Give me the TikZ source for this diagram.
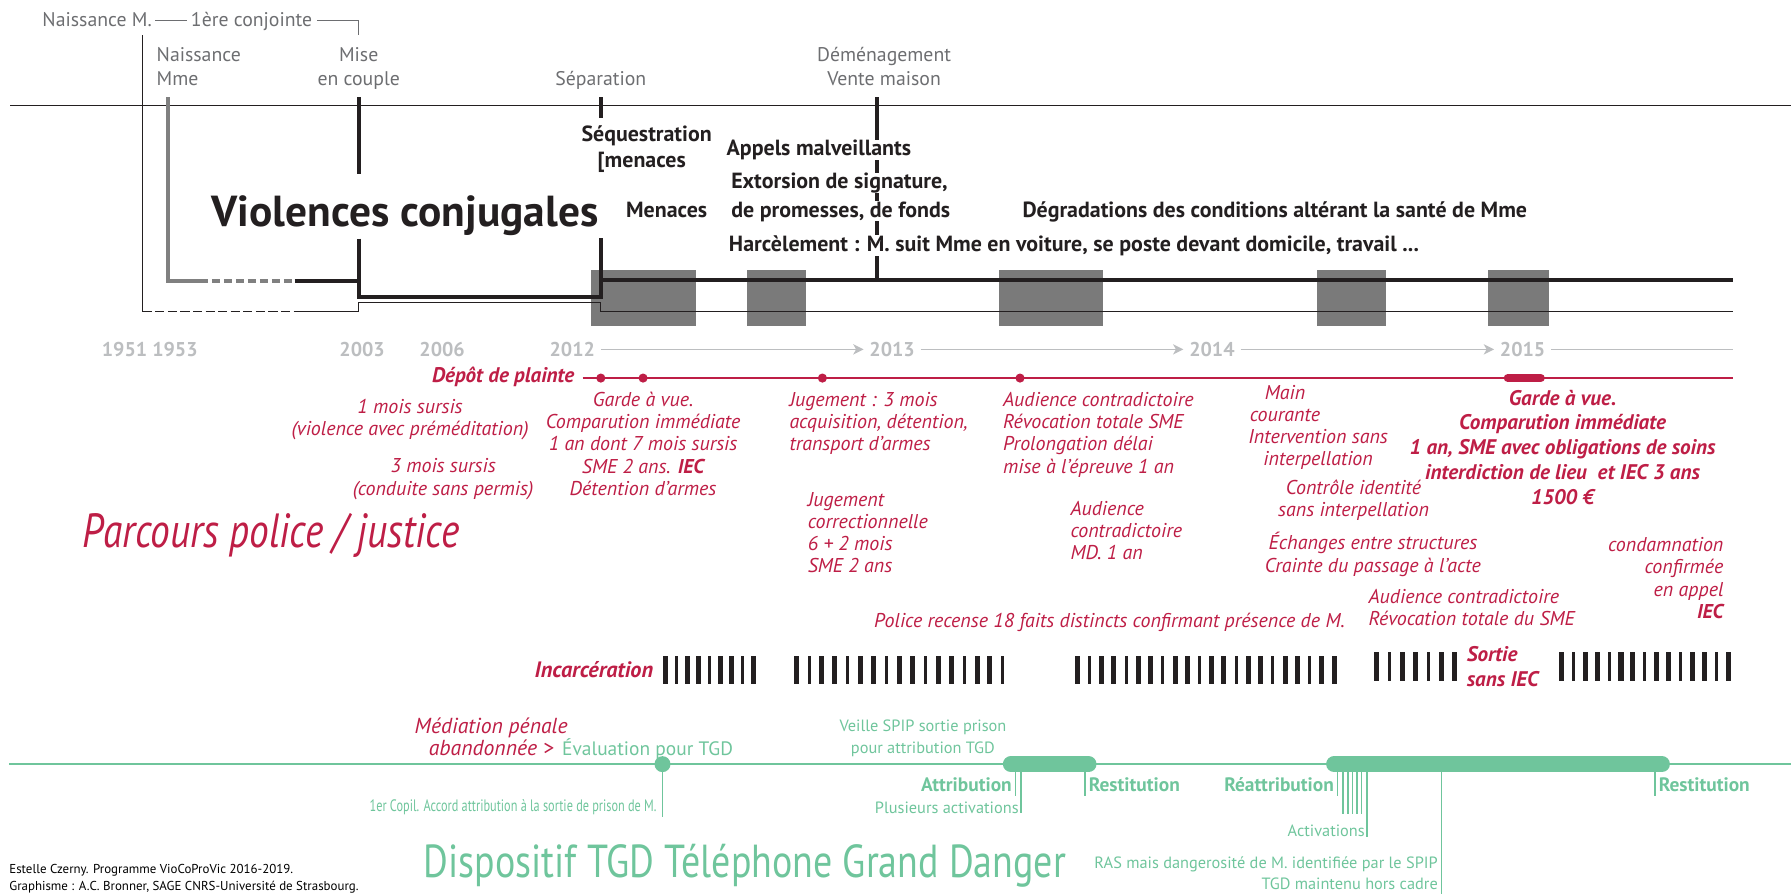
\documentclass[tikz,border=0pt]{standalone}
\usepackage{fontspec}
\setmainfont{PT Sans}
\newfontfamily\condfont{PT Sans}[FakeStretch=0.82]
\newfontfamily\copilfont{PT Sans}[FakeStretch=0.74]
\usetikzlibrary{arrows.meta}
\definecolor{labgray}{RGB}{109,110,113}
\definecolor{yeargray}{RGB}{188,190,192}
\definecolor{rc}{RGB}{190,30,70}
\definecolor{gc}{RGB}{111,197,156}
\definecolor{dk}{RGB}{35,31,32}
\definecolor{boxgray}{RGB}{122,122,122}
\definecolor{mmegray}{RGB}{128,128,128}
\begin{document}
\begin{tikzpicture}[x=1pt,y=-1pt,
  lab/.style={text=labgray, inner sep=0pt, font=\fontsize{17.3}{20.5}\selectfont, anchor=base},
  bk/.style={text=dk, inner sep=0pt, font=\bfseries\fontsize{19.2}{22}\selectfont, anchor=base west},
  yr/.style={text=yeargray, inner sep=0pt, font=\bfseries\fontsize{17.5}{20}\selectfont, anchor=base west},
  rt/.style={text=rc, inner sep=0pt, font=\itshape\fontsize{17.5}{19.4}\selectfont, anchor=base},
  rtb/.style={text=rc, inner sep=0pt, font=\bfseries\itshape\fontsize{18.5}{21.8}\selectfont, anchor=base},
  gt/.style={text=gc, inner sep=0pt, font=\fontsize{14.3}{19}\selectfont, anchor=base},
  gtb/.style={text=gc, inner sep=0pt, font=\bfseries\fontsize{17}{19}\selectfont, anchor=base},
  blackthick/.style={draw=dk, line width=3.5pt, line join=miter},
  blackthin/.style={draw=dk, line width=1pt},
  yline/.style={draw=yeargray, line width=1.2pt},
  redline/.style={draw=rc, line width=1.5pt},
  rdot/.style={circle, fill=rc, minimum size=8pt, inner sep=0pt},
  gline/.style={draw=gc, line width=1.5pt},
  gcaps/.style={draw=gc, line width=14pt, line cap=round},
]
\useasboundingbox (0,0) rectangle (1568,783);

% ---------- gray period boxes
\foreach \xa/\xb in {517/609,654/706,875/966,1153/1213,1303/1356}
  \fill[boxgray] (\xa,236) rectangle (\xb,285);

% ---------- top labels
\node[lab, anchor=base west] (nm) at (37,23) {Naissance M.};
\node[lab, anchor=base west] (c1) at (167,23) {1ère conjointe};
\coordinate (brk) at (314,18);
\coordinate (brkd) at (314,31);
\draw[draw=labgray, line width=1pt] ([xshift=3pt]nm.east |- brk) -- ([xshift=-3pt]c1.west |- brk);
\draw[draw=labgray, line width=1pt] ([xshift=4pt]c1.east |- brk) -- (brk) -- (brkd);

\node[lab, anchor=base west, align=left] (nmme) at (137,74.5) {Naissance\\Mme};
\node[lab, align=center] (mise) at (314,74.5) {Mise\\en couple};
\node[lab] (sep) at (526,74.5) {Séparation};
\node[lab, align=center] (dem) at (774,74.5) {Déménagement\\Vente maison};

% horizontal reference line
\coordinate (hl0) at (9,92);
\coordinate (hl1) at (1568,92);
\draw[blackthin] (hl0) -- (hl1);

% ---------- life lines
\coordinate (mTop) at (125,31);
\coordinate (mCorner) at (125,273);
\coordinate (mDashEnd) at (258,273);
\coordinate (mStep1) at (314,273);
\coordinate (mStep2) at (314,265);
\coordinate (mStep3) at (526,265);
\coordinate (mStep4) at (526,273);
\coordinate (mEnd) at (1517,273);
\draw[blackthin] (mTop) -- (mCorner);
\draw[blackthin, dash pattern=on 8pt off 3pt] (mCorner) -- (mDashEnd);
\draw[blackthin] (mDashEnd) -- (mStep1) -- (mStep2) -- (mStep3) -- (mStep4) -- (mEnd);

\coordinate (mmeTop) at (147,85);
\coordinate (mmeCorner) at (147,246);
\coordinate (mmeA) at (175,246);
\coordinate (mmeB) at (258,246);
\coordinate (mmeC) at (314,246);
\draw[draw=mmegray, line width=3.5pt, line join=miter] (mmeTop) -- (mmeCorner) -- (mmeA);
\draw[draw=mmegray, line width=3.5pt, dash pattern=on 7.5pt off 3pt] (mmeA) -- (mmeB);
\draw[blackthick] (mmeB) -- (mmeC);

\coordinate (miseTop) at (314,85);
\coordinate (miseMid) at (314,152);
\coordinate (miseLow) at (314,209);
\coordinate (miseCorner) at (314,260);
\coordinate (sepCorner) at (526,260);
\coordinate (sepLow) at (526,208);
\coordinate (sepTop) at (526,85);
\coordinate (sepMid) at (526,103);
\draw[blackthick] (miseTop) -- (miseMid);
\draw[blackthick] (miseLow) -- (miseCorner) -- (sepCorner) -- (sepLow);
\draw[blackthick] (sepTop) -- (sepMid);

\coordinate (mainA) at (526,245);
\coordinate (mainB) at (1517,245);
\draw[blackthick] (mainA) -- (mainB);

\coordinate (demTop) at (768,85);
\coordinate (demBot) at (768,245);
\draw[blackthick] (demTop) -- (demBot);

% ---------- violence texts
\node[text=dk, inner sep=0pt, font=\bfseries\fontsize{38}{40}\selectfont, anchor=base west] (vc) at (185,198) {Violences conjugales};
\node[bk] (seq) at (509,124) {Séquestration};
\node[bk] (seq2) at (523,147) {[menaces};
\node[bk, fill=white] (app) at (636,136) {Appels malveillants};
\node[bk, fill=white] (ext) at (640,165) {Extorsion de signature,};
\node[bk, fill=white] (prom) at (640,190) {de promesses, de fonds};
\node[bk] (men) at (548,190) {Menaces};
\node[bk] (deg) at (895,190) {Dégradations des conditions altérant la santé de Mme};
\node[bk, fill=white] (har) at (638,220) {Harcèlement : M. suit Mme en voiture, se poste devant domicile, travail ...};

% ---------- years
\node[yr] (y1951) at (89,312) {1951 1953};
\node[yr] (y2003) at (297,312) {2003};
\node[yr] (y2006) at (367,312) {2006};
\node[yr] (y2012) at (481,312) {2012};
\node[yr] (y2013) at (761,312) {2013};
\node[yr] (y2014) at (1041,312) {2014};
\node[yr] (y2015) at (1313,312) {2015};
\coordinate (axEnd) at (1517,305);
\draw[yline, -{Stealth[length=9pt,width=9pt,inset=2.5pt]}] ([xshift=5pt]y2012.east) -- ([xshift=-5pt]y2013.west);
\draw[yline, -{Stealth[length=9pt,width=9pt,inset=2.5pt]}] ([xshift=5pt]y2013.east) -- ([xshift=-5pt]y2014.west);
\draw[yline, -{Stealth[length=9pt,width=9pt,inset=2.5pt]}] ([xshift=5pt]y2014.east) -- ([xshift=-5pt]y2015.west);
\draw[yline] ([xshift=5pt]y2015.east) -- (axEnd |- y2015.east);

% ---------- police / justice
\coordinate (rStart) at (510,331);
\coordinate (rEnd) at (1517,331);
\draw[redline] (rStart) -- (rEnd);
\node[rdot] (d1) at (526,331) {};
\node[rdot] (d2) at (563,331) {};
\node[rdot] (d3) at (720,331) {};
\node[rdot] (d4) at (893,331) {};
\coordinate (rc1) at (1320,331);
\coordinate (rc2) at (1349,331);
\draw[draw=rc, line width=7pt, line cap=round] (rc1) -- (rc2);

\node[rtb, anchor=base east] (depot) at (503,335) {Dépôt de plainte};
\node[rt, align=center] (s1) at (359,381) {1 mois sursis\\(violence avec préméditation)};
\node[rt, align=center] (s3) at (388,433.4) {3 mois sursis\\(conduite sans permis)};
\node[rt, align=center] (gav) at (563,433.6) {Garde à vue.\\Comparution immédiate\\1 an dont 7 mois sursis\\SME 2 ans. \textbf{IEC}\\Détention d’armes};
\node[rt, align=left, anchor=base west] (jug1) at (691,394.8) {Jugement : 3 mois\\acquisition, détention,\\transport d’armes};
\node[rt, align=left, anchor=base west] (jug2) at (707,501.2) {Jugement\\correctionnelle\\6 + 2 mois\\SME 2 ans};
\node[rt, align=left, anchor=base west] (aud1) at (878,414.2) {Audience contradictoire\\Révocation totale SME\\Prolongation délai\\mise à l’épreuve 1 an};
\node[rt, align=left, anchor=base west] (aud2) at (937,489.8) {Audience\\contradictoire\\MD. 1 an};
\node[rt, anchor=base west] (pol) at (765,549) {Police recense 18 faits distincts confirmant présence de M.};
\node[rt, align=center] (main) at (1125,369.4) {Main\\courante};
\node[rt, align=center] (inter) at (1154,407.4) {Intervention sans\\interpellation};
\node[rt, align=center] (ctrl) at (1185,452.4) {Contrôle identité\\sans interpellation};
\node[rt, align=center] (ech) at (1202,500.9) {Échanges entre structures\\Crainte du passage à l’acte};
\node[rt, align=left, anchor=base west] (aud3) at (1198,547.4) {Audience contradictoire\\Révocation totale du SME};
\node[rtb, align=center] (gav2) at (1368,441.8) {Garde à vue.\\Comparution immédiate\\1 an, SME avec obligations de soins\\interdiction de lieu\ \ et IEC 3 ans\\1500 €};
\node[rt, align=right, anchor=base east] (cond) at (1509,541.2) {condamnation\\confirmée\\en appel\\\textbf{IEC}};
\node[text=rc, inner sep=0pt, font=\condfont\itshape\fontsize{42}{44}\selectfont, anchor=base west] (parc) at (72,479) {Parcours police / justice};

% ---------- incarceration
\node[rtb, font=\bfseries\itshape\fontsize{19.5}{21.8}\selectfont, anchor=base east] (inc) at (572,593) {Incarcération};
\node[rtb, align=left, anchor=base west] (sortie) at (1284,600.8) {Sortie\\sans IEC};
\foreach \ps/\pe/\pn/\ptop/\pbot in {583/660/9/574/599, 697/878/17/574/599, 943/1168/22/574/599, 1205/1273/7/571/596, 1367/1513/15/571/596}{
  \pgfmathsetmacro{\bstep}{(\pe-\ps)/(\pn-1)}
  \foreach \k in {1,...,\pn}{
    \pgfmathsetmacro{\xx}{\ps+(\k-1)*\bstep}
    \pgfmathsetmacro{\ww}{ifthenelse(mod(\k,3)==2,1.3,2.2)}
    \fill[dk] (\xx-\ww,\ptop) rectangle (\xx+\ww,\pbot);
  }
}

% ---------- TGD
\coordinate (g0) at (8,669);
\coordinate (g1) at (1568,669);
\draw[gline] (g0) -- (g1);
\coordinate (ca1) at (885,669);
\coordinate (ca2) at (953,669);
\coordinate (cb1) at (1168,669);
\coordinate (cb2) at (1455,669);
\draw[gcaps] (ca1) -- (ca2);
\draw[gcaps] (cb1) -- (cb2);
\node[circle, fill=gc, minimum size=14pt, inner sep=0pt] (gdot) at (580,669) {};
\coordinate (gdotEnd) at (580,715);
\draw[gline] (gdot.center) -- (gdotEnd);

\node[rt, font=\itshape\fontsize{19}{19}\selectfont, align=center] (med) at (430,661) {Médiation pénale\\abandonnée >};
\node[gt, font=\fontsize{17}{19}\selectfont, anchor=base west] (eval) at (492,661) {Évaluation pour TGD};
\node[gt, font=\copilfont\fontsize{14.5}{19}\selectfont, anchor=base east] (copil) at (575,710.6) {1er Copil. Accord attribution à la sortie de prison de M.};
\node[gt, align=center] (veille) at (808,659.6) {Veille SPIP sortie prison\\pour attribution TGD};

\node[gtb, anchor=base east] (attr) at (886,693) {Attribution};
\node[gt, anchor=base east] (plus) at (892,712) {Plusieurs activations};
\node[gtb, anchor=base west] (rest1) at (953,693) {Restitution};
\node[gtb, anchor=base east] (reat) at (1168,693) {Réattribution};
\node[gt, anchor=base east] (activ) at (1195,732) {Activations};
\node[gt, anchor=base east, align=right] (ras) at (1259,779) {RAS mais dangerosité de M. identifiée par le SPIP\\TGD maintenu hors cadre};
\node[gtb, anchor=base west] (rest2) at (1452,693) {Restitution};

\coordinate (t1a) at (889,676); \coordinate (t1b) at (889,697);
\coordinate (t2a) at (894,676); \coordinate (t2b) at (894,712);
\coordinate (t3a) at (950,676); \coordinate (t3b) at (950,697);
\coordinate (t4a) at (1171,676); \coordinate (t4b) at (1171,697);
\coordinate (t5a) at (1449,676); \coordinate (t5b) at (1449,697);
\coordinate (lgA) at (1262,669); \coordinate (lgB) at (1262,783);
\draw[gline] (t1a) -- (t1b);
\draw[gline] (t2a) -- (t2b);
\draw[gline] (t3a) -- (t3b);
\draw[gline] (t4a) -- (t4b);
\draw[gline] (t5a) -- (t5b);
\draw[gline] (lgA) -- (lgB);
\foreach \xa in {1176,1180,1184,1188,1192}
  \draw[gline] (\xa,676) -- (\xa,713);
\coordinate (acA) at (1197,676); \coordinate (acB) at (1197,733);
\draw[gline] (acA) -- (acB);

\node[text=gc, inner sep=0pt, font=\condfont\fontsize{40.5}{44}\selectfont, anchor=base west] (tgd) at (371,768) {Dispositif TGD Téléphone Grand Danger};
\node[text=black, inner sep=0pt, font=\fontsize{11.3}{15}\selectfont, anchor=base west, align=left] (cred) at (8,780) {Estelle Czerny. Programme VioCoProVic 2016-2019.\\Graphisme : A.C. Bronner, SAGE CNRS-Université de Strasbourg.};
\end{tikzpicture}
\end{document}
